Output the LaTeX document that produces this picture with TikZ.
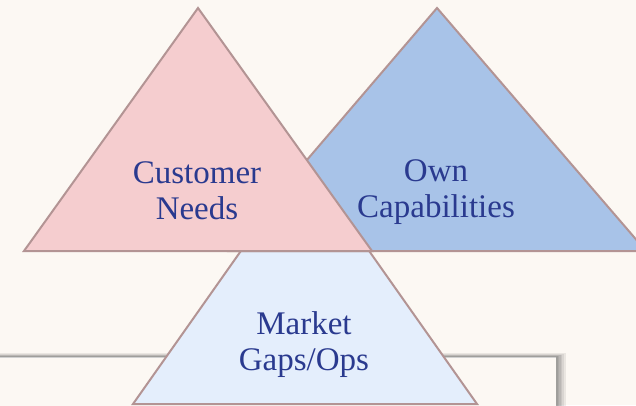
\documentclass[tikz,border=0pt]{standalone}
\usepackage{fontspec}
\setmainfont{Liberation Serif}
\definecolor{bgc}{HTML}{FCF8F3}
\definecolor{pinkf}{HTML}{F5CDCF}
\definecolor{bluef}{HTML}{A8C3E8}
\definecolor{lightf}{HTML}{E4EEFC}
\definecolor{edgec}{HTML}{B39494}
\definecolor{txtc}{HTML}{2A3A8F}
\tikzset{
  tri/.style={draw=edgec, line width=2pt, line join=miter},
  lbl/.style={text=txtc, align=center, font=\fontsize{33}{36}\selectfont, inner sep=0pt}
}
\begin{document}
\begin{tikzpicture}[x=1pt,y=-1pt]
\useasboundingbox (0,0) rectangle (636,405);
\begin{scope}
\clip (0,0) rectangle (636,405);
\fill[bgc] (0,0) rectangle (636,405);
% panel with shadow
\foreach \i in {1,...,6}{
  \fill[black, opacity=0.07] (-10,{357-\i*0.6}) rectangle ({556+\i*1.6},410);
}
\fill[bgc] (-10,358) rectangle (556,410);
\draw[color=black!18, line width=1.2pt] (-10,357.5) -- (556,357.5);
% triangles
\coordinate (m1) at (305,160); \coordinate (m2) at (133,404); \coordinate (m3) at (477,404);
\filldraw[tri, fill=lightf] (m1) -- (m2) -- (m3) -- cycle;
\coordinate (b1) at (437,8); \coordinate (b2) at (229,251); \coordinate (b3) at (646,251);
\filldraw[tri, fill=bluef] (b1) -- (b2) -- (b3) -- cycle;
\coordinate (p1) at (198,8); \coordinate (p2) at (24,251); \coordinate (p3) at (372,251);
\filldraw[tri, fill=pinkf] (p1) -- (p2) -- (p3) -- cycle;
\end{scope}
\node[lbl] (cn) at (197,191) {Customer\\Needs};
\node[lbl] (oc) at (436,192) {Own\\Capabilities};
\node[lbl] (mg) at (304,345) {Market\\Gaps/Ops};
\end{tikzpicture}
\end{document}
